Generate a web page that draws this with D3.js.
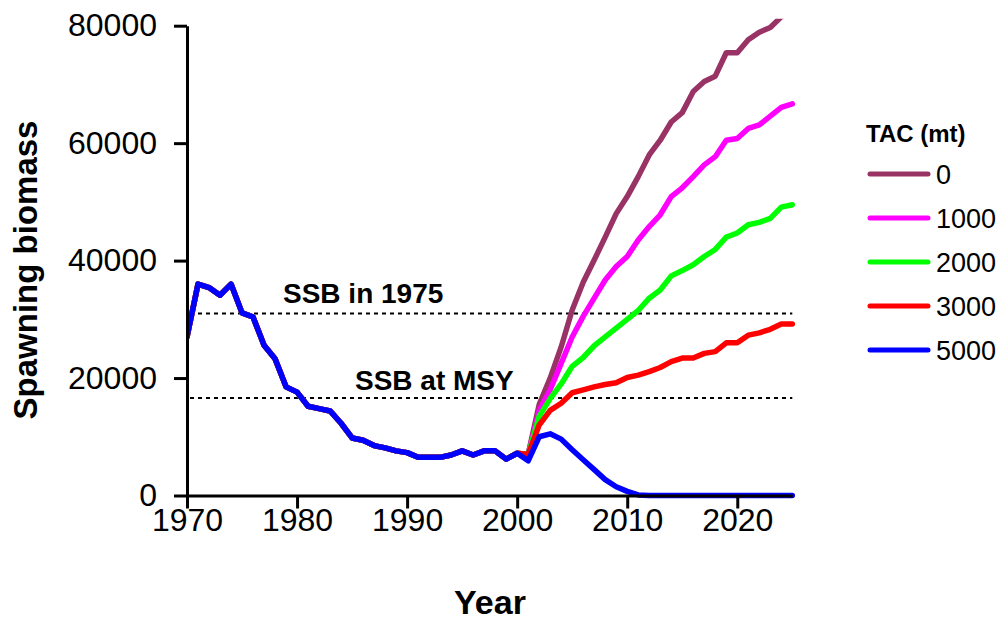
<!DOCTYPE html>
<html>
<head>
<meta charset="utf-8">
<script src="https://cdn.jsdelivr.net/npm/d3@7"></script>
<style>
  body { margin: 0; background: #fff; }
  svg { display: block; font-family: Arial, "Liberation Sans", sans-serif; }
</style>
</head>
<body>
<svg id="chart" width="1001" height="622"></svg>
<script>
// DATA ________________________________________________________________
const HIST_YEARS = d3.range(1970, 2001);
const HIST_SSB = [27000, 36000, 35400, 34100, 36000, 31100, 30400, 25600, 23300, 18500,
                  17600, 15200, 14800, 14400, 12300, 9800, 9400, 8500, 8100, 7600,
                  7300, 6500, 6500, 6500, 6900, 7600, 6900, 7600, 7600, 6200, 7200];

const PROJ_YEARS = d3.range(2001, 2026);
const TAC_0    = [7000, 15500, 20000, 25300, 31600, 36300, 40100, 44000, 48000, 50900,
                  54300, 58000, 60500, 63600, 65200, 68800, 70500, 71400, 75400, 75400,
                  77600, 78900, 79700, 81500, 83000];
const TAC_1000 = [7000, 14500, 18000, 22500, 27000, 30500, 33600, 36700, 39000, 40700,
                  43500, 45800, 47800, 50900, 52400, 54300, 56300, 57700, 60500, 60800,
                  62500, 63100, 64600, 66100, 66700];
const TAC_2000 = [7000, 13500, 16500, 19000, 22000, 23500, 25500, 27000, 28500, 30000,
                  31500, 33600, 35000, 37400, 38300, 39300, 40700, 41900, 44000, 44700,
                  46100, 46500, 47200, 49100, 49500];
const TAC_3000 = [7000, 12000, 14500, 15700, 17500, 18000, 18500, 18900, 19200, 20100,
                  20500, 21100, 21800, 22800, 23400, 23400, 24200, 24500, 26000, 26000,
                  27300, 27700, 28300, 29200, 29200];
const TAC_5000 = [5900, 10000, 10500, 9600, 7800, 6100, 4400, 2700, 1500, 700,
                  100, 0, 0, 0, 0, 0, 0, 0, 0, 0,
                  0, 0, 0, 0, 0];

const SERIES_NAMES = ['0', '1000', '2000', '3000', '5000'];
const SERIES_VALUES = [TAC_0, TAC_1000, TAC_2000, TAC_3000, TAC_5000];
const SERIES_COLORS = ['#993366', '#ff00ff', '#00ff00', '#ff0000', '#0000ff'];

const REF_LINES = [{label: 'SSB in 1975', value: 31000}, {label: 'SSB at MSY', value: 16600}];

const Y_TICKS = [0, 20000, 40000, 60000, 80000];
const X_TICKS = [1970, 1980, 1990, 2000, 2010, 2020];
//______________________________________________________________________


const svg = d3.select('#chart');

const x = d3.scaleLinear().domain([1970, 2025]).range([187, 792.3]);
const y = d3.scaleLinear().domain([0, 80000]).range([495.5, 25.7]);

// clip so the 0-TAC line stops near the top of the plot
svg.append('clipPath').attr('id', 'plot-clip')
    .append('rect')
    .attr('x', x(1970)).attr('y', y(80000) - 7)
    .attr('width', x(2025) - x(1970) + 10)
    .attr('height', y(0) - y(80000) + 20);

// dotted reference lines
const refs = svg.append('g');
refs.selectAll('line')
    .data(REF_LINES)
    .enter()
    .append('line')
    .attr('x1', x(1970) + 3).attr('x2', x(2025))
    .attr('y1', d => y(d.value)).attr('y2', d => y(d.value))
    .attr('stroke', '#000')
    .attr('stroke-width', 2)
    .attr('stroke-dasharray', '4,4');

svg.append('text').attr('x', 283).attr('y', 303)
    .attr('font-size', 28).attr('font-weight', 'bold')
    .text(REF_LINES[0].label);
svg.append('text').attr('x', 355).attr('y', 390)
    .attr('font-size', 28).attr('font-weight', 'bold')
    .text(REF_LINES[1].label);

// series: shared history + projection for each TAC
const line = d3.line()
    .x(d => x(d.year))
    .y(d => y(d.value));

const seriesData = SERIES_VALUES.map(function(vals, i) {
    const pts = HIST_YEARS.map((yr, j) => ({year: yr, value: HIST_SSB[j]}));
    PROJ_YEARS.forEach((yr, j) => pts.push({year: yr, value: vals[j]}));
    return {name: SERIES_NAMES[i], color: SERIES_COLORS[i], points: pts};
});

svg.append('g')
    .attr('clip-path', 'url(#plot-clip)')
    .selectAll('path')
    .data(seriesData)
    .enter()
    .append('path')
    .attr('d', d => line(d.points))
    .attr('fill', 'none')
    .attr('stroke', d => d.color)
    .attr('stroke-width', 5.5)
    .attr('stroke-linejoin', 'round')
    .attr('stroke-linecap', 'round');

// axes
const yAxis = svg.append('g')
    .attr('transform', `translate(${x(1970)},0)`)
    .call(d3.axisLeft(y).tickValues(Y_TICKS).tickFormat(d3.format('d'))
        .tickSize(13).tickSizeOuter(0).tickPadding(17));

const xAxis = svg.append('g')
    .attr('transform', `translate(0,${y(0)})`)
    .call(d3.axisBottom(x).tickValues(X_TICKS).tickFormat(d3.format('d'))
        .tickSize(13).tickSizeOuter(0).tickPadding(0));

[yAxis, xAxis].forEach(function(ax) {
    ax.select('.domain').attr('stroke', '#000').attr('stroke-width', 3);
    ax.selectAll('.tick line').attr('stroke', '#000').attr('stroke-width', 3);
    ax.selectAll('.tick text')
        .attr('fill', '#000')
        .style('font-family', 'Arial, "Liberation Sans", sans-serif')
        .style('font-size', '32px');
});

// axis titles
svg.append('text')
    .attr('x', 490).attr('y', 614)
    .attr('text-anchor', 'middle')
    .attr('font-size', 34).attr('font-weight', 'bold')
    .text('Year');

svg.append('text')
    .attr('transform', 'translate(37,270) rotate(-90)')
    .attr('text-anchor', 'middle')
    .attr('font-size', 33).attr('font-weight', 'bold')
    .text('Spawning biomass');

// legend
const legend = svg.append('g');
legend.append('text')
    .attr('x', 866).attr('y', 142)
    .attr('font-size', 24).attr('font-weight', 'bold')
    .text('TAC (mt)');

const rows = legend.selectAll('.row')
    .data(seriesData)
    .enter()
    .append('g')
    .attr('class', 'row')
    .attr('transform', (d, i) => `translate(0,${174 + i * 44})`);

rows.append('line')
    .attr('x1', 870).attr('x2', 928)
    .attr('stroke', d => d.color)
    .attr('stroke-width', 5)
    .attr('stroke-linecap', 'round');

rows.append('text')
    .attr('x', 936).attr('dy', '0.36em')
    .attr('font-size', 27)
    .text(d => d.name);
</script>
</body>
</html>
